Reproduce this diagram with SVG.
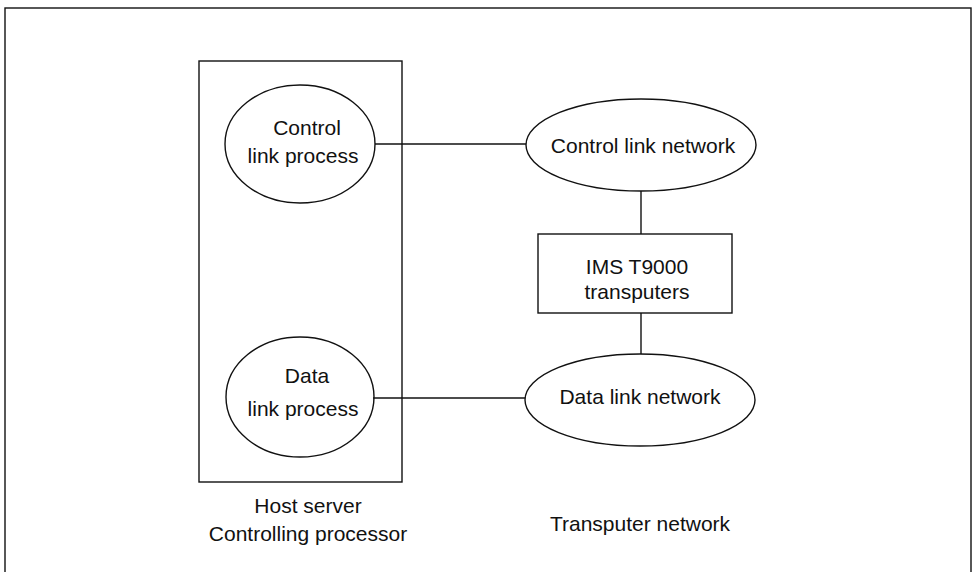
<svg xmlns="http://www.w3.org/2000/svg" width="972" height="572" viewBox="0 0 972 572">
<style>
.s{fill:none;stroke:#111;stroke-width:1.4}
.t{font-family:"Liberation Sans",Arial,sans-serif;font-size:21px;fill:#111;text-anchor:middle}
</style>
<rect width="972" height="572" fill="#fff"/>
<rect class="s" x="5" y="8" width="966" height="580"/>
<g id="connectors">
<line class="s" x1="375" y1="144" x2="526" y2="144"/>
<line class="s" x1="641" y1="191" x2="641" y2="234"/>
<line class="s" x1="641" y1="313" x2="641" y2="354"/>
<line class="s" x1="373" y1="398" x2="525" y2="398"/>
</g>
<g id="host">
<rect class="s" x="199" y="61" width="203" height="421"/>
<text class="t" x="308" y="513">Host server</text>
<text class="t" x="308" y="541">Controlling processor</text>
</g>
<g id="control-process">
<ellipse class="s" cx="300" cy="144" rx="75" ry="59"/>
<text class="t" x="307" y="135">Control</text>
<text class="t" x="303" y="163">link process</text>
</g>
<g id="data-process">
<ellipse class="s" cx="300" cy="397" rx="74" ry="60"/>
<text class="t" x="307" y="383">Data</text>
<text class="t" x="303" y="416">link process</text>
</g>
<g id="control-network">
<ellipse class="s" cx="641" cy="145" rx="115" ry="46"/>
<text class="t" x="643" y="153">Control link network</text>
</g>
<g id="transputers">
<rect class="s" x="538" y="234" width="194" height="79"/>
<text class="t" x="637" y="274">IMS T9000</text>
<text class="t" x="637" y="299">transputers</text>
</g>
<g id="data-network">
<ellipse class="s" cx="640" cy="400" rx="115" ry="46"/>
<text class="t" x="640" y="404">Data link network</text>
</g>
<g id="transputer-label">
<text class="t" x="640" y="531">Transputer network</text>
</g>
</svg>
